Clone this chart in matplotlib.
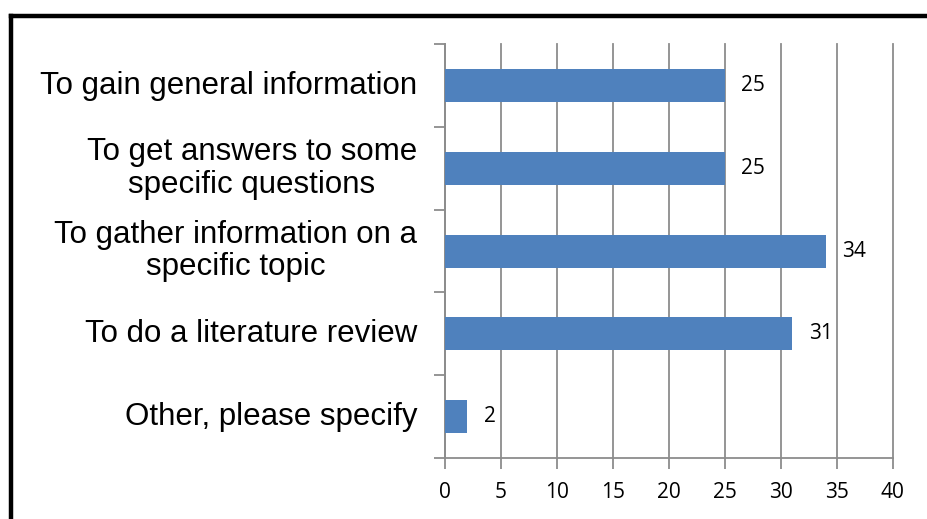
import matplotlib.pyplot as plt
from matplotlib.lines import Line2D

# data
categories = ["To gain general information",
              "To get answers to some\nspecific questions",
              "To gather information on a\nspecific topic",
              "To do a literature review",
              "Other, please specify"]
values = [25, 25, 34, 31, 2]
xticks = [0, 5, 10, 15, 20, 25, 30, 35, 40]

fig = plt.figure(figsize=(9.27, 5.19), dpi=100)
ax = fig.add_axes([0.480, 0.1175, 0.483, 0.7975])

pos = list(range(len(categories)))
ax.barh(pos, values, height=0.4, color='#4F81BD', zorder=3)
ax.set_ylim(len(categories) - 0.5, -0.5)
ax.set_xlim(0, 40)

# vertical grid
ax.set_xticks(xticks)
ax.set_xticklabels([str(t) for t in xticks], fontsize=15, family='Open Sans')
ax.grid(axis='x', color='#8C8C8C', linewidth=1.3, zorder=0)
for gl in ax.get_xgridlines():
    gl.set_clip_on(False)
ax.tick_params(axis='x', length=8, width=1.3, color='#8C8C8C', pad=9)

# category boundary ticks on the y axis
ax.set_yticks([p - 0.5 for p in pos] + [len(categories) - 0.5])
ax.set_yticklabels([])
ax.tick_params(axis='y', length=8, width=1.3, color='#8C8C8C')
for p, c in zip(pos, categories):
    ax.annotate(c, (0, p), xytext=(-20, 0), textcoords='offset points',
                ha='right', va='center', multialignment='center',
                fontsize=22.5, family='Liberation Sans', linespacing=1.12)

for s in ['top', 'right']:
    ax.spines[s].set_visible(False)
for s in ['left', 'bottom']:
    ax.spines[s].set_color('#8C8C8C')
    ax.spines[s].set_linewidth(1.3)

# value labels
for p, v in zip(pos, values):
    ax.annotate(str(v), (v, p), xytext=(12, 0), textcoords='offset points',
                va='center', ha='left', fontsize=15, family='Open Sans')

# black frame (left and top)
fig.add_artist(Line2D([11 / 927, 11 / 927], [0, 1 - 16 / 519], color='black', lw=3.2,
                      transform=fig.transFigure, solid_capstyle='projecting'))
fig.add_artist(Line2D([11 / 927, 1], [1 - 16 / 519, 1 - 16 / 519], color='black', lw=3.2,
                      transform=fig.transFigure, solid_capstyle='projecting'))

fig.savefig('out.png', dpi=100)
